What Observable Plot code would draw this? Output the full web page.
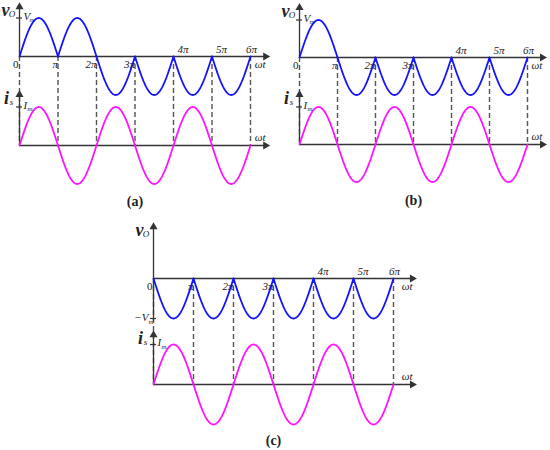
<!DOCTYPE html>
<html>
<head>
<meta charset="utf-8">
<script src="https://cdn.jsdelivr.net/npm/d3@7"></script>
<script src="https://cdn.jsdelivr.net/npm/@observablehq/plot@0.6"></script>
<style>
  body { margin: 0; background: #fff; }
  #wrap { position: relative; width: 550px; height: 450px; background: #fff; overflow: hidden; }
  #wrap svg { position: absolute; max-width: none; background: transparent; }
  #wrap svg text { font-family: "Liberation Serif", "Times New Roman", Times, serif !important; }
</style>
</head>
<body>
<div id="wrap"></div>
<script>
// ---- data ----
const tickLabels = ["0", "π", "2π", "3π", "4π", "5π", "6π"];   // multiples of π on ωt axis
const halfCycle = [0, 1, 2, 3, 4, 5];                           // half-cycle index
const voSignA = [1, 1, -1, -1, -1, -1];                          // vo polarity per half-cycle, panel (a)
const voSignB = [1, -1, -1, -1, -1, -1];                         // panel (b)
const voSignC = [-1, -1, -1, -1, -1, -1];                        // panel (c)
const isSign = [1, -1, 1, -1, 1, -1];                            // is polarity per half-cycle (all panels)
const Vm = 1, Im = 1;                                            // peak values
const captions = ["(a)", "(b)", "(c)"];

const serif = "Liberation Serif";
const axisColor = "#333";

// ideal half-wave shapes, one per half-cycle with given polarity
function wave(signs, amp) {
  const pts = [];
  halfCycle.forEach((k, i) => {
    for (let j = 0; j <= 60; j++) {
      const t = k + j / 60;
      pts.push({x: t, y: signs[i] * amp * Math.abs(Math.sin(Math.PI * t)), seg: k});
    }
  });
  return pts;
}

function panel(c) {
  const {left, top, w, h, ox, oy, kx, ky, gap, vo, caption, voTop, isTop, axisEnd, voBottom, neg} = c;
  const isOff = -gap / ky;
  const xd = [-ox / kx, (w - ox) / kx];
  const yd = [-(h - oy) / ky, oy / ky];
  const voPts = wave(vo, Vm);
  const isPts = wave(isSign, Im).map(d => ({...d, y: d.y + isOff}));
  const ticks = tickLabels.map((t, i) => ({x: i, label: t}));
  const tk = 3 / kx;
  const txt = (data, o) => Plot.text(data, {fontFamily: serif, fill: "#222", ...o});
  const marks = [
    // dashed drop lines at every multiple of π
    Plot.ruleX(ticks, {x: "x", y1: 0, y2: isOff, stroke: "#555", strokeWidth: 1.4, strokeDasharray: "5,3"}),
    // vertical axes
    Plot.ruleX([0], {y1: voBottom, y2: voTop - 0.05, stroke: axisColor, strokeWidth: 1.3}),
    Plot.ruleX([0], {y1: isOff, y2: isOff + isTop - 0.05, stroke: axisColor, strokeWidth: 1.3}),
    // horizontal axes
    Plot.ruleY([0, isOff], {x1: 0, x2: axisEnd - 0.1, stroke: axisColor, strokeWidth: 1.3}),
    // arrowheads
    Plot.dot([{x: 0, y: voTop - 0.06}, {x: 0, y: isOff + isTop - 0.06}], {x: "x", y: "y", symbol: "triangle", r: 3, fill: axisColor, stroke: "none"}),
    Plot.dot([{x: axisEnd - 0.08, y: 0}, {x: axisEnd - 0.08, y: isOff}], {x: "x", y: "y", symbol: "triangle", r: 3, rotate: 90, fill: axisColor, stroke: "none"}),
    // peak ticks
    Plot.ruleY([neg ? -Vm : Vm], {x1: -tk, x2: tk, stroke: axisColor, strokeWidth: 1.2}),
    Plot.ruleY([isOff + Im], {x1: -tk, x2: tk, stroke: axisColor, strokeWidth: 1.2}),
    // waveforms
    Plot.line(voPts, {x: "x", y: "y", z: "seg", stroke: "#1414ff", strokeWidth: 1.8}),
    Plot.line(isPts, {x: "x", y: "y", z: "seg", stroke: "#ff14ff", strokeWidth: 1.8}),
    // tick labels
    txt(ticks.filter(d => d.x === 0), {x: "x", y: () => 0, text: "label", textAnchor: "end", dx: -1, dy: 8, fontSize: 11}),
    txt(ticks.filter(d => d.x >= 1 && d.x <= 3), {x: "x", y: () => 0, text: "label", textAnchor: "end", dx: 0, dy: 8, fontSize: 11, fontStyle: "italic"}),
    txt(ticks.filter(d => d.x >= 4 && d.x <= 5), {x: "x", y: () => 0, text: "label", textAnchor: "start", dx: 4, dy: -7, fontSize: 11, fontStyle: "italic"}),
    txt(ticks.filter(d => d.x === 6), {x: "x", y: () => 0, text: "label", textAnchor: "middle", dx: 1, dy: -7, fontSize: 11, fontStyle: "italic"}),
    // ωt labels
    txt([0], {x: () => axisEnd, y: () => 0, text: () => "ωt", textAnchor: "end", dx: -3, dy: 8, fontSize: 11, fontStyle: "italic"}),
    txt([0], {x: () => axisEnd, y: () => isOff, text: () => "ωt", textAnchor: "end", dx: -3, dy: -8, fontSize: 11, fontStyle: "italic"}),
    // axis names
    txt([0], {x: () => 0, y: () => voTop, text: () => "v", textAnchor: "middle", dx: -14, dy: 6, fontSize: 18, fontStyle: "italic", fontWeight: "bold"}),
    txt([0], {x: () => 0, y: () => voTop, text: () => "O", textAnchor: "middle", dx: -7.5, dy: 10, fontSize: 9, fontStyle: "italic"}),
    txt([0], {x: () => 0, y: () => isOff + isTop, text: () => "i", textAnchor: "middle", dx: -13, dy: 6, fontSize: 18, fontStyle: "italic", fontWeight: "bold"}),
    txt([0], {x: () => 0, y: () => isOff + isTop, text: () => "s", textAnchor: "middle", dx: -8, dy: 10, fontSize: 9, fontStyle: "italic"}),
    // peak labels
    ...(neg ? [
      txt([0], {x: () => 0, y: () => -Vm, text: () => "−V", textAnchor: "end", dx: -5, dy: -1, fontSize: 11, fontStyle: "italic"}),
      txt([0], {x: () => 0, y: () => -Vm, text: () => "m", textAnchor: "start", dx: -5, dy: 3, fontSize: 7, fontStyle: "italic"})
    ] : [
      txt([0], {x: () => 0, y: () => Vm, text: () => "V", textAnchor: "start", dx: 4, dy: -2, fontSize: 11, fontStyle: "italic"}),
      txt([0], {x: () => 0, y: () => Vm, text: () => "m", textAnchor: "start", dx: 10, dy: 2, fontSize: 7, fontStyle: "italic"})
    ]),
    txt([0], {x: () => 0, y: () => isOff + Im, text: () => "I", textAnchor: "start", dx: 4, dy: -2, fontSize: 11, fontStyle: "italic"}),
    txt([0], {x: () => 0, y: () => isOff + Im, text: () => "m", textAnchor: "start", dx: 8, dy: 2, fontSize: 7, fontStyle: "italic"}),
    // caption
    txt([caption], {x: () => 3, y: () => isOff, text: d => d, textAnchor: "middle", dy: 56, fontSize: 14, fontWeight: "bold"})
  ];
  const svg = Plot.plot({
    width: w, height: h,
    marginTop: 0, marginRight: 0, marginBottom: 0, marginLeft: 0,
    x: {domain: xd, axis: null},
    y: {domain: yd, axis: null},
    style: {background: "transparent", overflow: "visible"},
    marks
  });
  svg.style.left = left + "px";
  svg.style.top = top + "px";
  svg.style.width = w + "px";
  svg.style.height = h + "px";
  return svg;
}

const wrap = document.getElementById("wrap");
wrap.appendChild(panel({left: 0, top: 0, w: 275, h: 215, ox: 19, oy: 56, kx: 38.5, ky: 38.5, gap: 89,
  vo: voSignA, caption: captions[0], voTop: 1.35, isTop: 1.38, axisEnd: 6.47, voBottom: 0, neg: false}));
wrap.appendChild(panel({left: 275, top: 0, w: 275, h: 215, ox: 24, oy: 57, kx: 38, ky: 37.5, gap: 87,
  vo: voSignB, caption: captions[1], voTop: 1.39, isTop: 1.39, axisEnd: 6.47, voBottom: 0, neg: false}));
wrap.appendChild(panel({left: 120, top: 215, w: 310, h: 235, ox: 33, oy: 63, kx: 40, ky: 40, gap: 106,
  vo: voSignC, caption: captions[2], voTop: 1.35, isTop: 1.3, axisEnd: 6.55, voBottom: -1.08, neg: true}));
</script>
</body>
</html>
